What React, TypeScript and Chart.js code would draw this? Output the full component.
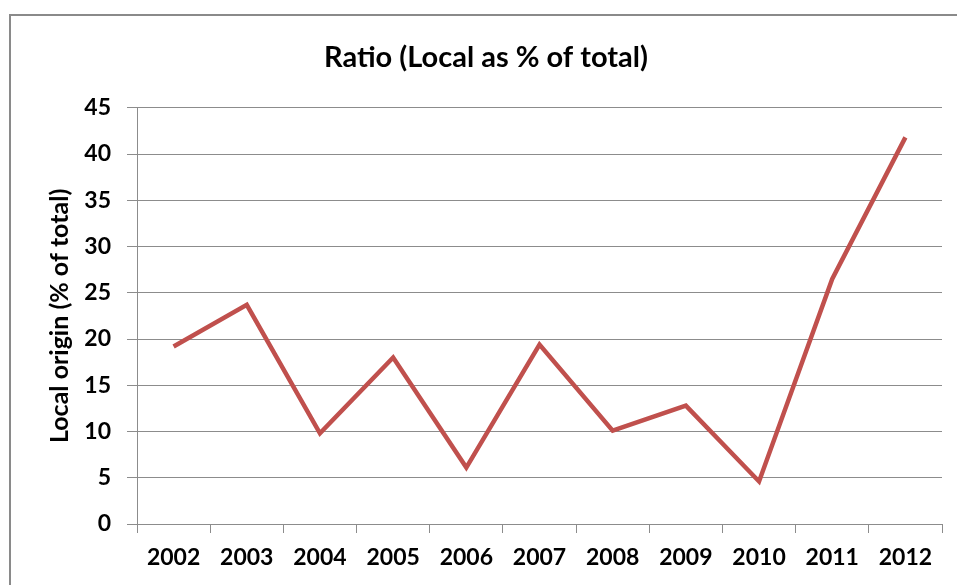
import React, { useEffect, useRef } from "react";
import { Chart, registerables } from "chart.js";

Chart.register(...registerables);

const categories = ["2002", "2003", "2004", "2005", "2006", "2007", "2008", "2009", "2010", "2011", "2012"];
const ratioValues = [19.2, 23.7, 9.8, 18.0, 6.1, 19.4, 10.1, 12.8, 4.6, 26.5, 41.8];
const yTickValues = [0, 5, 10, 15, 20, 25, 30, 35, 40, 45];

const FONT = "Lato, 'Open Sans', 'Liberation Sans', sans-serif";
const GRID = "#8c8c8c";

export default function App() {
  const ref = useRef<HTMLCanvasElement | null>(null);

  useEffect(() => {
    if (!ref.current) return;
    const chart = new Chart(ref.current, {
      type: "line",
      data: {
        labels: categories,
        datasets: [
          {
            label: "Ratio",
            data: ratioValues,
            borderColor: "#C0504D",
            backgroundColor: "#C0504D",
            borderWidth: 4.5,
            pointRadius: 0,
            pointHoverRadius: 0,
            tension: 0,
            fill: false,
            borderJoinStyle: "miter",
          },
        ],
      },
      options: {
        responsive: false,
        animation: false,
        devicePixelRatio: 1,
        layout: { padding: { left: 30, right: 15, top: 0, bottom: 0 } },
        plugins: {
          legend: { display: false },
          tooltip: { enabled: false },
          title: {
            display: true,
            text: "Ratio (Local as % of total)",
            color: "#000",
            font: { family: FONT, size: 29, weight: "bold", lineHeight: 1.2 },
            padding: { top: 40, bottom: 33 },
          },
        },
        scales: {
          x: {
            type: "category",
            offset: true,
            grid: {
              display: true,
              drawOnChartArea: false,
              drawTicks: true,
              tickLength: 9,
              offset: true,
              color: GRID,
              lineWidth: 1,
            },
            border: { display: true, color: GRID, width: 1 },
            ticks: {
              color: "#000",
              font: { family: FONT, size: 23, weight: "bold" },
              padding: 11,
              maxRotation: 0,
              autoSkip: false,
            },
            afterFit: (scale: any) => {
              scale.height = 585 - 524;
            },
          },
          y: {
            min: 0,
            max: 45,
            afterBuildTicks: (scale: any) => {
              scale.ticks = yTickValues.map((v) => ({ value: v }));
            },
            grid: {
              display: true,
              drawTicks: true,
              tickLength: 10,
              color: GRID,
              lineWidth: 1,
            },
            border: { display: true, color: GRID, width: 1 },
            ticks: {
              color: "#000",
              font: { family: FONT, size: 23, weight: "bold" },
              padding: 16,
            },
            title: {
              display: true,
              text: "Local origin (% of total)",
              color: "#000",
              font: { family: FONT, size: 25, weight: "bold", lineHeight: 1.2 },
              padding: { top: 15, bottom: 0 },
            },
            afterFit: (scale: any) => {
              scale.width = 107;
            },
          },
        },
      },
    });
    return () => chart.destroy();
  }, []);

  return (
    <div
      style={{
        position: "absolute",
        left: 0,
        top: 0,
        width: 957,
        height: 585,
        overflow: "hidden",
        background: "#fff",
      }}
    >
      <div
        style={{
          position: "absolute",
          left: 9,
          top: 14,
          width: 1200,
          height: 1000,
          borderTop: "2px solid #8a8a8a",
          borderLeft: "2px solid #8a8a8a",
          boxSizing: "border-box",
        }}
      />
      <canvas
        ref={ref}
        width={957}
        height={585}
        style={{ position: "absolute", left: 0, top: 0, width: 957, height: 585 }}
      />
    </div>
  );
}
